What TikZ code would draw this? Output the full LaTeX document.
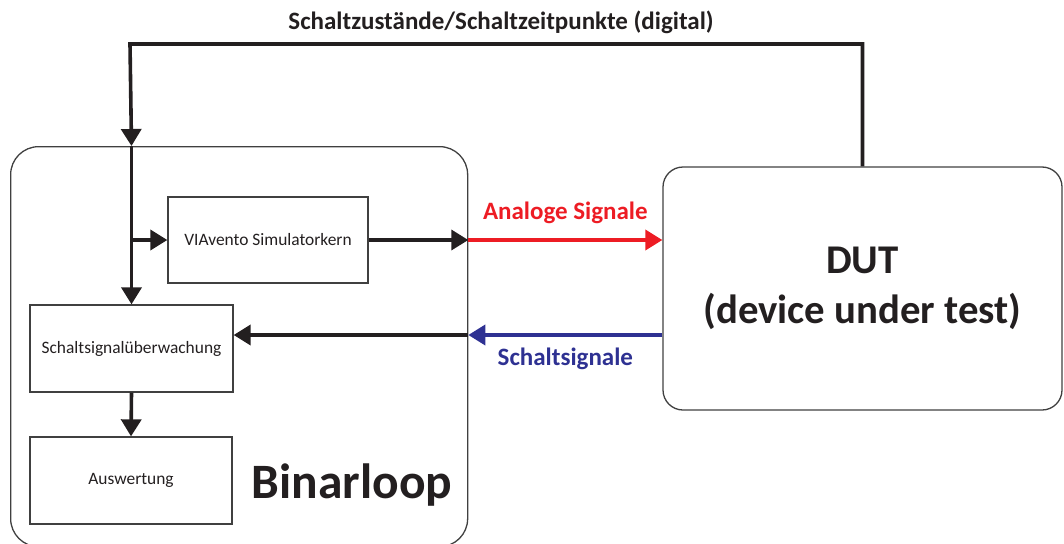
\documentclass[tikz,border=0pt]{standalone}
\usepackage{fontspec}
\setmainfont{Carlito}
\usetikzlibrary{arrows.meta}
\definecolor{linegray}{HTML}{404040}
\definecolor{inkblack}{HTML}{231F20}
\definecolor{sigred}{HTML}{ED1C24}
\definecolor{sigblue}{HTML}{2E3192}

\begin{document}
\begin{tikzpicture}[x=1pt, y=-1pt,
		box/.style={draw=linegray, line width=1.3pt, inner sep=0pt, text=inkblack},
		small/.style={font=\fontsize{17.4}{20}\selectfont},
		sig/.style={draw=inkblack, line width=3.6pt, -{Triangle[length=17pt, width=20pt]}},
	]
	\useasboundingbox (0,0) rectangle (1064,543);
	\clip (0,0) rectangle (1064,543);
	% Binarloop frame and its blocks
	\node[box, rounded corners=28pt, minimum width=457pt, minimum height=400pt, anchor=north west] (loop) at (10,146) {};
	\node[font=\bfseries\fontsize{49.5}{56}\selectfont, text=inkblack] (looplabel) at (352,485) {Binarloop};
	\node[box, small, minimum width=200pt, minimum height=86pt] (sim) at (268,240) {VIAvento Simulatorkern};
	\node[box, small, minimum width=203pt, minimum height=87pt] (watch) at (131.5,348.5) {Schaltsignalüberwachung};
	\node[box, small, minimum width=202pt, minimum height=87pt] (eval) at (131,480.5) {Auswertung};
	% device under test
	\node[box, rounded corners=20pt, minimum width=399pt, minimum height=243pt, align=center,
		font=\bfseries\fontsize{40.8}{50}\selectfont] (dut) at (862.5,288.5) {DUT\\(device under test)};
	\node[font=\bfseries\fontsize{25}{30}\selectfont, text=inkblack] (title) at (501,22) {Schaltzustände/Schaltzeitpunkte (digital)};

	\coordinate (topleft) at (130,44);
	\coordinate (swin) at ([yshift=13.5pt]watch.east);

	% digital feedback from the DUT
	\draw[sig] (dut.north) |- (topleft) -- (watch.north |- loop.north);
	\draw[sig] (watch.north |- loop.north) -- (watch.north);
	\draw[sig] (sim.west -| watch.north) -- (sim.west);
	% analogue path
	\draw[sig] (sim.east) -- (sim.east -| loop.east);
	\draw[sig, draw=sigred, -{Triangle[length=17pt, width=20pt, fill=sigred]}] (sim.east -| loop.east) -- (sim.east -| dut.west)
		node[midway, above=11pt, font=\bfseries\fontsize{25}{30}\selectfont, text=sigred] {Analoge Signale};
	% switching signals back
	\draw[sig, draw=sigblue, -{Triangle[length=17pt, width=20pt, fill=sigblue]}] (swin -| dut.west) -- (swin -| loop.east)
		node[midway, below=8pt, font=\bfseries\fontsize{25}{30}\selectfont, text=sigblue] {Schaltsignale};
	\draw[sig] (swin -| loop.east) -- (swin);
	\draw[sig] (watch.south) -- (eval.north);
\end{tikzpicture}
\end{document}
